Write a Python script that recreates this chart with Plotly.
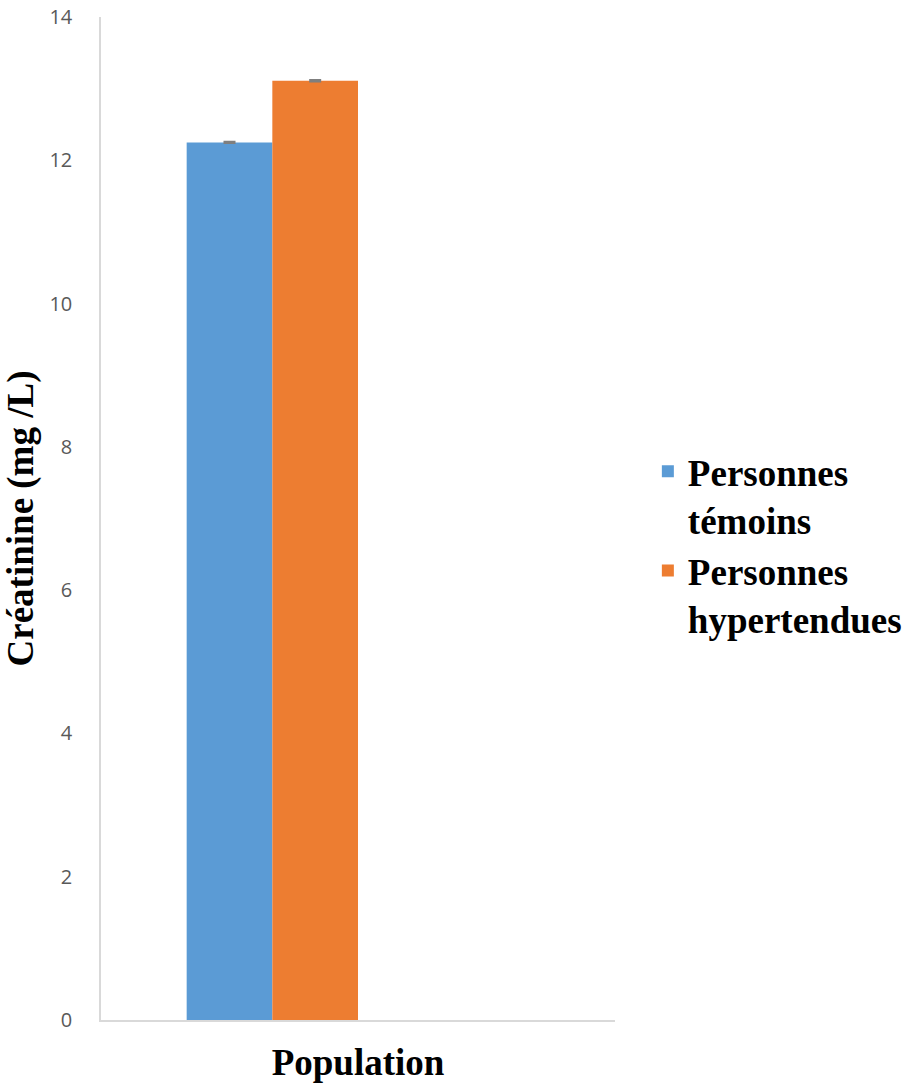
import plotly.graph_objects as go

# Creatinine means per group
categories = ["Population"]
series_names = ["<b>Personnes<br>témoins</b>", "<b>Personnes<br>hypertendues</b>"]
temoins = [12.25]
hypertendues = [13.11]
err_temoins = [0.01]
err_hypertendues = [0.01]

colors = ["#5B9BD5", "#ED7D31"]
serif = "Liberation Serif"

fig = go.Figure()
for name, vals, errs, col in [
    (series_names[0], temoins, err_temoins, colors[0]),
    (series_names[1], hypertendues, err_hypertendues, colors[1]),
]:
    fig.add_trace(go.Bar(
        x=categories, y=vals, name=name, marker_color=col, marker_line_width=0,
        error_y=dict(type="data", array=errs, color="#7F7F7F", thickness=2, width=6),
    ))

# two empty series slots keep the group occupying its original width
for _ in range(2):
    fig.add_trace(go.Bar(x=categories, y=[None], showlegend=False, hoverinfo="skip"))

fig.update_layout(
    width=908, height=1086,
    margin=dict(l=101, r=293, t=17, b=66),
    paper_bgcolor="white", plot_bgcolor="white",
    barmode="group", bargap=1/3, bargroupgap=0,
    legend=dict(
        xref="container", yref="container",
        x=0.7135, y=0.498, xanchor="left", yanchor="middle", valign="top",
        font=dict(family=serif, size=37, color="black"),
        tracegroupgap=6, itemwidth=30,
    ),
    xaxis=dict(
        automargin=False,
        showticklabels=False, ticks="", showgrid=False,
        showline=True, linecolor="#D9D9D9", linewidth=1.5,
        title=dict(text="<b>Population</b>", font=dict(family=serif, size=37, color="black"), standoff=28),
    ),
    yaxis=dict(
        automargin=False,
        range=[0, 14], dtick=2, showgrid=False, zeroline=False,
        showline=True, linecolor="#D9D9D9", linewidth=1.5,
        ticks="", tickfont=dict(family="Open Sans", size=20, color="#595959"),
        ticklabelstandoff=23,
        title=dict(text="<b>Créatinine (mg /L)</b>", font=dict(family=serif, size=37, color="black"), standoff=4),
    ),
)

fig.write_html("out.html")
